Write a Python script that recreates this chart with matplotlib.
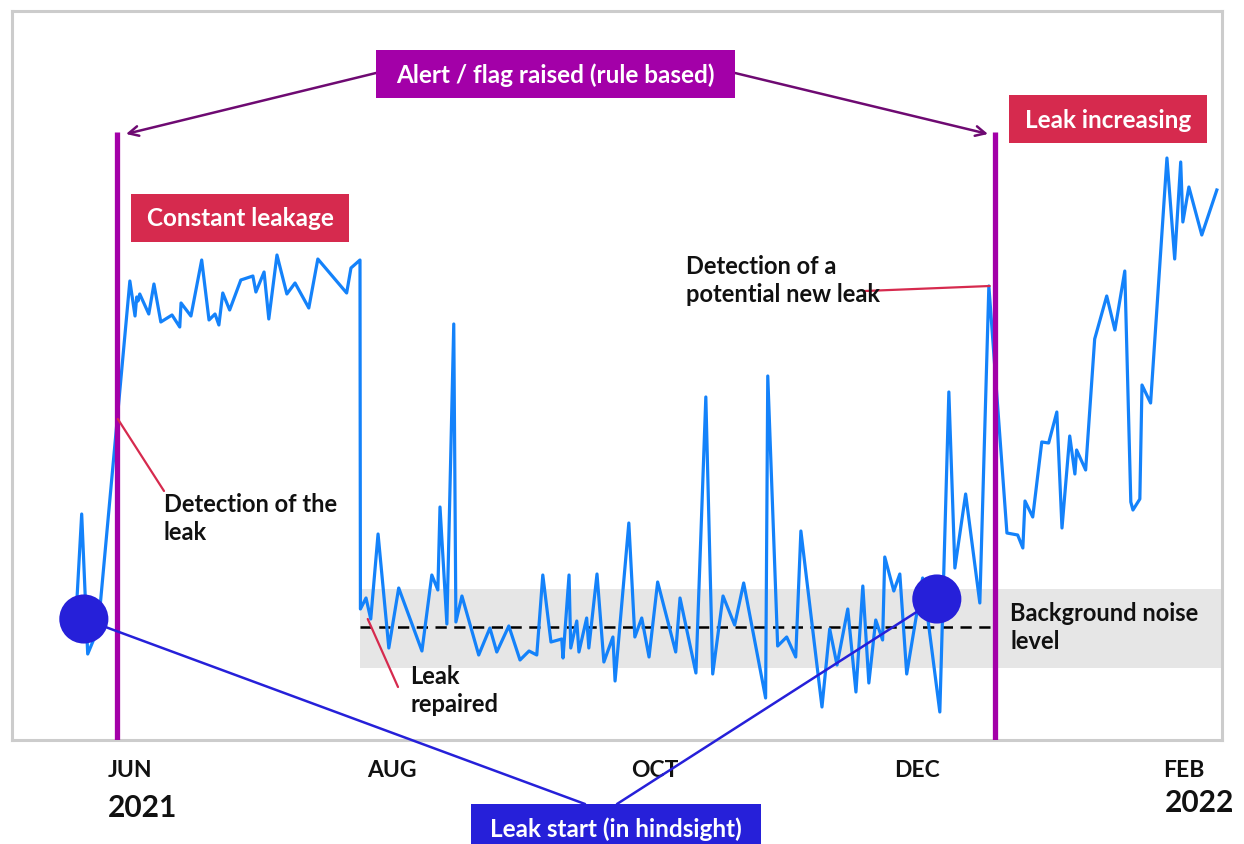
import numpy as np
import pandas as pd
import matplotlib.pyplot as plt
import matplotlib.dates as mdates
from matplotlib.patches import Rectangle

plt.rcParams["font.family"] = ["Lato", "DejaVu Sans"]
plt.rcParams["font.weight"] = "bold"

# flow readings: days since 2021-06-01 and flow (arbitrary units)
days = [
    -12.3, -11.2, -9.8, -7.4, 0.0, 1.2, 1.6, 1.9, 2.3, 4.4, 5.6, 7.2, 9.8, 11.6, 11.9,
    14.2, 16.7, 18.4, 19.8, 20.7, 21.6, 23.2, 25.8, 28.6, 29.3, 31.2, 32.3, 34.2, 36.5,
    38.4, 41.6, 43.7, 50.4, 51.4, 53.5, 53.6, 54.9, 56.0, 57.7, 60.2, 62.5, 67.9, 70.2,
    71.6, 72.1, 73.7, 75.3, 75.8, 77.2, 81.1, 83.7, 85.3, 88.1, 90.7, 92.8, 94.6, 96.0,
    97.9, 100.4, 100.7, 102.1, 102.5, 103.9, 104.4, 106.2, 106.7, 108.6, 110.2, 112.3,
    112.8, 116.0, 117.4, 119.0, 120.7, 122.7, 126.9, 127.9, 131.6, 133.9, 135.5, 137.9,
    140.6, 142.7, 147.8, 148.3, 150.6, 152.7, 154.8, 156.0, 160.9, 162.7, 164.4, 166.9,
    168.8, 170.4, 171.8, 173.4, 175.0, 175.5, 177.6, 179.0, 180.6, 184.3, 188.3, 190.4,
    191.8, 194.3, 197.6, 199.7, 203.9, 206.4, 207.6, 208.1, 209.9, 212.0, 213.6, 215.5,
    216.7, 218.5, 219.7, 220.1, 222.2, 224.3, 227.1, 229.0, 231.3, 232.7, 233.2, 234.8,
    235.3, 237.3, 241.1, 242.9, 244.3, 244.8, 246.2, 249.2, 252.7,
]
flow = [
    141, 226, 86, 111, 459, 424, 443, 439, 446, 426, 456, 418, 425, 413, 437,
    424, 480, 420, 426, 415, 447, 430, 460, 464, 448, 468, 421, 485, 446,
    457, 432, 481, 447, 472, 480, 131, 142, 121, 206, 92, 152, 89, 165,
    150, 233, 116, 416, 118, 144, 85, 112, 88, 114, 80, 89, 85, 165,
    98, 101, 82, 165, 92, 119, 88, 122, 92, 166, 78, 103,
    59, 217, 103, 122, 83, 158, 88, 142, 67, 343, 66, 144,
    115, 157, 42, 364, 94, 103, 83, 209, 33, 111, 75, 131,
    48, 154, 57, 120, 100, 183, 149, 166, 66, 162, 28, 348,
    172, 246, 137, 454, 207, 205, 192, 239, 223, 298, 297, 328,
    212, 304, 266, 290, 270, 401, 444, 410, 469, 238, 230, 241,
    355, 337, 582, 481, 578, 518, 553, 505, 550,
]

month_ticks = ["2021-06-01", "2021-08-01", "2021-10-01", "2021-12-01", "2022-02-01"]
month_labels = ["JUN", "AUG", "OCT", "DEC", "FEB"]

alert_days = [-3.0, 201.1]
leak_start_days = [-10.7, 187.6]
leak_start_flow = [121, 141]
noise_level = 113
noise_band = (72, 151)
repair_day = 53.5

BASE = pd.Timestamp("2021-06-01")
W, H = 1244, 845

BLUE = "#1482FA"
PURPLE = "#A300A8"
DARK_PURPLE = "#6E0A72"
RED = "#D62A4E"
DEEP_BLUE = "#2620D9"
INK = "#111111"


def to_num(d):
    return mdates.date2num(BASE + pd.Timedelta(days=d))


def fig_xy(px, py):
    return px / W, 1 - py / H


def main():
    fig = plt.figure(figsize=(W / 100, H / 100), dpi=100)
    ax = fig.add_axes([12 / W, (H - 741) / H, 1210 / W, 729 / H])

    x = [to_num(d) for d in days]
    x_lo, x_hi = to_num(-27.4), to_num(253.9)

    # background noise band and level
    ax.fill_between([to_num(repair_day), x_hi], noise_band[0], noise_band[1],
                    color="#E6E6E6", lw=0, zorder=1)
    ax.plot([to_num(repair_day), to_num(alert_days[1])], [noise_level] * 2,
            color="black", lw=1.8, dashes=(4.5, 3), zorder=2)

    ax.plot(x, flow, color=BLUE, lw=2.3, zorder=3)

    for d in alert_days:
        ax.plot([to_num(d)] * 2, [0, 608], color=PURPLE, lw=3.8,
                solid_capstyle="butt", zorder=4)

    ax.set_xlim(x_lo, x_hi)
    ax.set_ylim(0, 729)
    ax.set_yticks([])
    ax.set_xticks([mdates.date2num(pd.Timestamp(t)) for t in month_ticks])
    ax.set_xticklabels(month_labels, fontsize=16.5, fontweight="bold")
    ax.tick_params(axis="x", length=0, pad=14, colors=INK)
    for s in ax.spines.values():
        s.set_color("#CCCCCC")
        s.set_linewidth(2.2)

    def connector(px, py, d, v, color, lw=1.6, style="-", z=5):
        ax.annotate("", xy=(to_num(d), v), xycoords="data",
                    xytext=(px, H - py), textcoords="figure pixels",
                    arrowprops=dict(arrowstyle=style, color=color, lw=lw,
                                    shrinkA=0, shrinkB=0),
                    zorder=z, annotation_clip=False)

    # alert arrows
    head = "->,head_length=0.7,head_width=0.35"
    connector(376, 74, -0.9, 606, DARK_PURPLE, lw=1.8, style=head)
    connector(735, 74, 199.5, 606, DARK_PURPLE, lw=1.8, style=head)

    # leak start connectors and dots
    connector(585, 805, leak_start_days[0], leak_start_flow[0], DEEP_BLUE, lw=1.8)
    connector(617, 805, leak_start_days[1], leak_start_flow[1], DEEP_BLUE, lw=1.8)
    ax.scatter([to_num(d) for d in leak_start_days], leak_start_flow, s=1250,
               color=DEEP_BLUE, zorder=6, clip_on=False, edgecolors="none")

    # detection / repair connectors
    connector(164, 492, -2.8, 321, RED, lw=1.6)
    connector(865, 292, 199.9, 454, RED, lw=1.6)
    connector(398, 688, 55.3, 121, RED, lw=1.6)

    # labelled boxes
    boxes = [
        (376, 51, 735, 99, 75, PURPLE, "Alert / flag raised (rule based)"),
        (131, 195, 349, 243, 219, RED, "Constant leakage"),
        (1009, 96, 1207, 144, 120, RED, "Leak increasing"),
        (471, 805, 761, 860, 829, DEEP_BLUE, "Leak start (in hindsight)"),
    ]
    for x0, y0, x1, y1, cy, col, label in boxes:
        fx, fy = fig_xy(x0, y1)
        fig.add_artist(Rectangle((fx, fy), (x1 - x0) / W, (y1 - y0) / H,
                                 transform=fig.transFigure, color=col, lw=0,
                                 zorder=7))
        tx, ty = fig_xy((x0 + x1) / 2, cy)
        fig.text(tx, ty, label, color="white", fontsize=17.5, fontweight="bold",
                 ha="center", va="center", zorder=8)

    notes = [
        (164, 493, "Detection of the\nleak"),
        (686, 255, "Detection of a\npotential new leak"),
        (410, 665, "Leak\nrepaired"),
        (1010, 602, "Background noise\nlevel"),
    ]
    for px, py, label in notes:
        tx, ty = fig_xy(px, py)
        fig.text(tx, ty, label, color=INK, fontsize=17, fontweight="bold",
                 ha="left", va="top", linespacing=1.27, zorder=8)

    tx, ty = fig_xy(108, 808)
    fig.text(tx, ty, "2021", fontsize=21.5, fontweight="bold", color=INK,
             ha="left", va="center")
    tx, ty = fig_xy(1234, 803)
    fig.text(tx, ty, "2022", fontsize=21.5, fontweight="bold", color=INK,
             ha="right", va="center")

    fig.savefig("out.png", dpi=100)
    plt.close(fig)


if __name__ == "__main__":
    main()
